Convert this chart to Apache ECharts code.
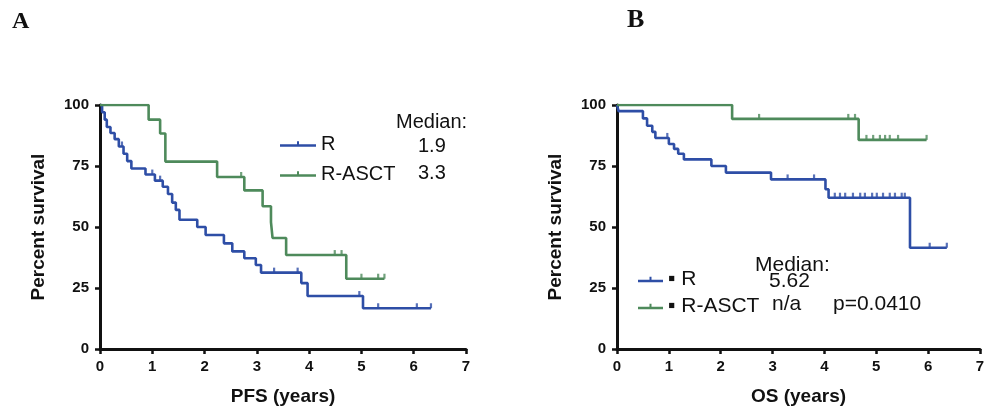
<!DOCTYPE html>
<html>
<head>
<meta charset="utf-8">
<title>Survival curves</title>
<script src="https://cdn.jsdelivr.net/npm/echarts@6/dist/echarts.min.js"></script>
<style>
  html, body { margin: 0; padding: 0; background: #fff; }
  #chart { width: 987px; height: 412px; }
</style>
</head>
<body>
<div id="chart"></div>
<script>
// tick values on both panels
var xTicks = [0, 1, 2, 3, 4, 5, 6, 7];
var yTicks = [0, 25, 50, 75, 100];

// A: progression free survival, [years, percent]
var pfsR = [[0, 100], [0.04, 97], [0.09, 94], [0.13, 91], [0.2, 88.5], [0.28, 86], [0.36, 83], [0.45, 80], [0.52, 77], [0.6, 74],
  [0.87, 71.5], [1.05, 69], [1.2, 66.5], [1.3, 63.5], [1.38, 60], [1.45, 57], [1.52, 53], [1.86, 50], [2.02, 46.7],
  [2.37, 43.3], [2.53, 40], [2.76, 37.2], [2.98, 34.4], [3.08, 31.3], [3.85, 27], [3.97, 21.7], [5.03, 16.7], [6.33, 16.7]];
var pfsRCens = [[0.42, 83], [1.0, 71.5], [1.15, 69], [3.33, 31.3], [3.78, 31.3], [4.96, 21.7], [5.32, 16.7], [6.06, 16.7], [6.33, 16.7]];
var pfsAsct = [[0, 100], [0.93, 94], [1.15, 88.3], [1.25, 76.8], [2.24, 70.5], [2.76, 65], [3.11, 58.5], [3.27, 52], [3.3, 45.5],
  [3.56, 38.5], [4.71, 28.8], [5.44, 28.8]];
var pfsAsctCens = [[2.7, 70.5], [4.49, 38.5], [4.62, 38.5], [5.0, 28.8], [5.32, 28.8], [5.44, 28.8]];

// B: overall survival, [years, percent]
var osR = [[0, 100], [0.03, 97.5], [0.5, 94.5], [0.58, 91.5], [0.68, 89], [0.74, 86.5], [1.0, 84], [1.1, 82], [1.18, 80],
  [1.29, 77.7], [1.82, 75], [2.1, 72.3], [2.97, 69.5], [4.02, 65.5], [4.08, 62], [5.65, 41.5], [6.36, 41.5]];
var osRCens = [[0.97, 86.5], [3.29, 69.5], [3.8, 69.5], [4.2, 62], [4.3, 62], [4.4, 62], [4.55, 62], [4.69, 62], [4.78, 62],
  [4.92, 62], [5.01, 62], [5.13, 62], [5.26, 62], [5.36, 62], [5.49, 62], [5.55, 62], [6.03, 41.5], [6.36, 41.5]];
var osAsct = [[0, 100], [2.22, 94.3], [4.66, 85.7], [5.97, 85.7]];
var osAsctCens = [[2.74, 94.3], [4.46, 94.3], [4.59, 94.3], [4.81, 85.7], [4.94, 85.7], [5.07, 85.7], [5.17, 85.7],
  [5.26, 85.7], [5.42, 85.7], [5.97, 85.7]];

var groups = ['R', 'R-ASCT'];
var pfsMedians = ['1.9', '3.3'];
var osMedians = ['5.62', 'n/a'];
var osPValue = 'p=0.0410';

var BLUE = '#2e4ea6';
var GREEN = '#4e8a5b';
var INK = '#111';
var SANS = '"Liberation Sans", Arial, Helvetica, sans-serif';
var SERIF = '"Liberation Serif", "Times New Roman", serif';

var myChart = echarts.init(document.getElementById('chart'), null, { renderer: 'canvas' });

function xAxisFor(grid, name) {
  return {
    type: 'value', gridIndex: grid,
    min: xTicks[0], max: xTicks[xTicks.length - 1], interval: 1,
    name: name, nameLocation: 'middle', nameGap: 38,
    nameTextStyle: { color: INK, fontFamily: SANS, fontWeight: 'bold', fontSize: 19 },
    axisLine: { onZero: false, lineStyle: { color: INK, width: 3 } },
    axisTick: { show: true, inside: false, length: 5, lineStyle: { color: INK, width: 2.5 } },
    axisLabel: { margin: 10, color: INK, fontFamily: SANS, fontWeight: 'bold', fontSize: 15 },
    splitLine: { show: false }
  };
}

function yAxisFor(grid) {
  return {
    type: 'value', gridIndex: grid,
    min: yTicks[0], max: yTicks[yTicks.length - 1], interval: 25,
    name: 'Percent survival', nameLocation: 'middle', nameGap: 52, nameRotate: 90,
    nameTextStyle: { color: INK, fontFamily: SANS, fontWeight: 'bold', fontSize: 19 },
    axisLine: { onZero: false, lineStyle: { color: INK, width: 3 } },
    axisTick: { show: true, inside: false, length: 5, lineStyle: { color: INK, width: 2.5 } },
    axisLabel: { margin: 11, color: INK, fontFamily: SANS, fontWeight: 'bold', fontSize: 15 },
    splitLine: { show: false }
  };
}

// step curve for one group
function curve(name, grid, data, color) {
  return {
    name: name, type: 'line', xAxisIndex: grid, yAxisIndex: grid,
    data: data, step: 'end', symbol: 'none', silent: true,
    lineStyle: { color: color, width: 2.6 },
    itemStyle: { color: color },
    z: 3
  };
}

// censored subjects, small upward ticks
function censors(name, grid, data, color) {
  return {
    name: name + ' censored', type: 'scatter', xAxisIndex: grid, yAxisIndex: grid,
    data: data, symbol: 'rect', symbolSize: [2.2, 5], symbolOffset: [0, -2.5], silent: true,
    itemStyle: { color: color },
    z: 4
  };
}

function label(text, x, y, size, extra) {
  var el = {
    type: 'text', x: x, y: y, silent: true,
    style: { text: text, fill: INK, font: size + 'px ' + SANS, verticalAlign: 'middle' }
  };
  if (extra) el.style.font = extra;
  return el;
}

var tickIcon = 'path://M0,3H36V5.5H0Z M17,0H19V4H17Z';
var shortIcon = 'path://M0,3H25V5.5H0Z M11.5,0H13.5V4H11.5Z';

var option = {
  animation: false,
  backgroundColor: '#fff',
  grid: [
    { left: 100, top: 105, width: 366, height: 244, outerBoundsMode: 'none' },
    { left: 617, top: 105, width: 363, height: 244, outerBoundsMode: 'none' }
  ],
  xAxis: [xAxisFor(0, 'PFS (years)'), xAxisFor(1, 'OS (years)')],
  yAxis: [yAxisFor(0), yAxisFor(1)],
  legend: [
    {
      data: [{ name: groups[0], icon: tickIcon }, { name: groups[1], icon: tickIcon }],
      orient: 'vertical', left: 275, top: 129, itemWidth: 36, itemHeight: 6, itemGap: 10,
      selectedMode: false,
      textStyle: { color: INK, fontFamily: SANS, fontSize: 20 }
    },
    {
      data: [{ name: groups[0], icon: shortIcon }, { name: groups[1], icon: shortIcon }],
      orient: 'vertical', left: 633, top: 264, itemWidth: 25, itemHeight: 6, itemGap: 6,
      selectedMode: false,
      formatter: function (n) { return '\u25AA ' + n; },
      textStyle: { color: INK, fontFamily: SANS, fontSize: 21 }
    }
  ],
  graphic: [
    label('A', 12, 22, 24, 'bold 24px ' + SERIF),
    label('B', 627, 20, 26, 'bold 26px ' + SERIF),
    label('Median:', 396, 122, 20),
    label(pfsMedians[0], 418, 146, 20),
    label(pfsMedians[1], 418, 173, 20),
    label('Median:', 755, 265, 21),
    label(osMedians[0], 769, 281, 21),
    label(osMedians[1], 772, 304, 21),
    label(osPValue, 833, 304, 21)
  ],
  series: [
    curve(groups[0], 0, pfsR, BLUE),
    curve(groups[1], 0, pfsAsct, GREEN),
    censors(groups[0], 0, pfsRCens, BLUE),
    censors(groups[1], 0, pfsAsctCens, GREEN),
    curve(groups[0], 1, osR, BLUE),
    curve(groups[1], 1, osAsct, GREEN),
    censors(groups[0], 1, osRCens, BLUE),
    censors(groups[1], 1, osAsctCens, GREEN)
  ]
};

myChart.setOption(option);
</script>
</body>
</html>
